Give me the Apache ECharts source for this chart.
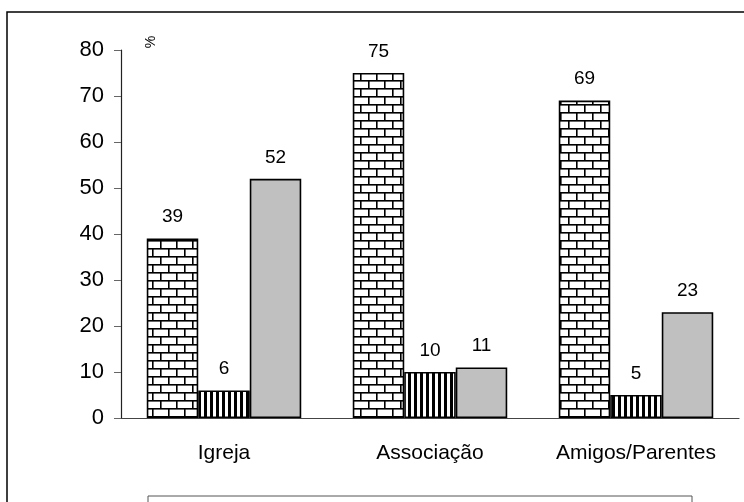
<!DOCTYPE html>
<html>
<head>
<meta charset="utf-8">
<script src="https://cdn.jsdelivr.net/npm/echarts@6/dist/echarts.min.js"></script>
<style>html,body{margin:0;padding:0;background:#fff}#c{width:744px;height:502px}</style>
</head>
<body>
<div id="c"></div>
<script>
var categories = ['Igreja', 'Associação', 'Amigos/Parentes'];
var seriesBrick = [39, 75, 69];
var seriesStripe = [6, 10, 5];
var seriesGray = [52, 11, 23];
var yTicks = [0, 10, 20, 30, 40, 50, 60, 70, 80];

function brickPattern() {
  var c = document.createElement('canvas');
  c.width = 16; c.height = 16;
  var g = c.getContext('2d');
  g.fillStyle = '#fff'; g.fillRect(0, 0, 16, 16);
  g.fillStyle = '#000';
  g.fillRect(0, 0, 16, 1.6);
  g.fillRect(0, 8, 16, 1.6);
  g.fillRect(0, 0, 1.6, 8);
  g.fillRect(8, 8, 1.6, 8);
  return c;
}
function stripePattern() {
  var c = document.createElement('canvas');
  c.width = 6; c.height = 6;
  var g = c.getContext('2d');
  g.fillStyle = '#fff'; g.fillRect(0, 0, 6, 6);
  g.fillStyle = '#000'; g.fillRect(0, 0, 3, 6);
  return c;
}

var labelStyle = { show: true, position: 'top', distance: 12, color: '#000', fontSize: 19, fontFamily: 'Liberation Sans' };
var itemBase = { borderColor: '#000', borderWidth: 1.6 };

var chart = echarts.init(document.getElementById('c'));
chart.setOption({
  animation: false,
  backgroundColor: '#fff',
  grid: { left: 121, right: 5, top: 50, bottom: 84 },
  xAxis: {
    type: 'category',
    data: categories,
    axisLine: { lineStyle: { color: '#444', width: 1.2 } },
    axisTick: { length: 7, lineStyle: { color: '#444' } },
    axisLabel: { interval: 0, hideOverlap: false, color: '#000', fontSize: 21, fontFamily: 'Liberation Sans', margin: 25 }
  },
  yAxis: {
    type: 'value',
    min: 0, max: 80, interval: 10,
    splitLine: { show: false },
    axisLine: { show: true, lineStyle: { color: '#222', width: 1.2 } },
    axisTick: { show: true, length: 7, lineStyle: { color: '#666' } },
    axisLabel: { color: '#000', fontSize: 22, fontFamily: 'Liberation Sans', margin: 17,
      formatter: function (v) { return yTicks.indexOf(v) >= 0 ? String(v) : ''; } }
  },
  series: [
    { type: 'bar', data: seriesBrick, barGap: '0%', barCategoryGap: '25%',
      itemStyle: Object.assign({ color: { image: brickPattern(), repeat: 'repeat' } }, itemBase), label: labelStyle },
    { type: 'bar', data: seriesStripe,
      itemStyle: Object.assign({ color: { image: stripePattern(), repeat: 'repeat' } }, itemBase), label: labelStyle },
    { type: 'bar', data: seriesGray,
      itemStyle: Object.assign({ color: '#c0c0c0' }, itemBase), label: labelStyle }
  ],
  graphic: [
    { type: 'rect', shape: { x: 7, y: 12, width: 800, height: 600 }, style: { fill: 'none', stroke: '#000', lineWidth: 1.5 }, silent: true },
    { type: 'rect', shape: { x: 148, y: 496, width: 544, height: 50 }, style: { fill: 'none', stroke: '#555', lineWidth: 1 }, silent: true },
    { type: 'text', x: 151, y: 42, rotation: Math.PI / 2, style: { text: '%', fontSize: 14, fontFamily: 'Liberation Sans', fill: '#000', align: 'center', verticalAlign: 'middle' }, silent: true }
  ]
});
</script>
</body>
</html>
